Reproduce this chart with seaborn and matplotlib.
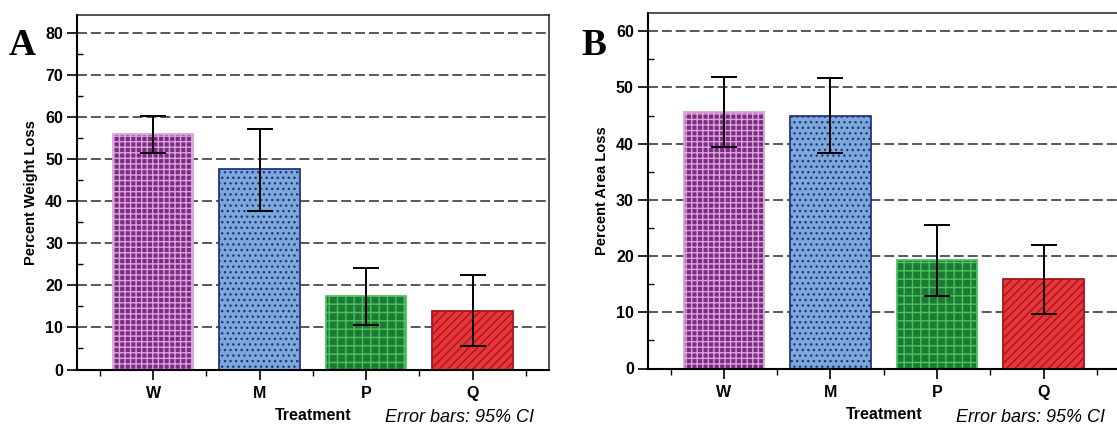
import matplotlib
matplotlib.use("Agg")
import matplotlib.pyplot as plt
import seaborn as sns
import pandas as pd
from matplotlib.ticker import MultipleLocator, FixedLocator

treatments = ["W", "M", "P", "Q"]

weight_loss = [56.0, 47.6, 17.5, 14.0]
weight_lo = [51.5, 37.7, 10.6, 5.5]
weight_hi = [60.2, 57.3, 24.2, 22.4]

area_loss = [45.6, 45.0, 19.3, 16.0]
area_lo = [39.4, 38.3, 12.9, 9.7]
area_hi = [51.8, 51.6, 25.5, 22.0]

face_colors = ["#7E2A86", "#7DA9DA", "#1C7A34", "#E8353A"]
edge_colors = ["#D9A6DA", "#26357F", "#4CC35E", "#A4161D"]
hatches = ["+++", "...", "++", "////"]

sns.set_style("white")
plt.rcParams["font.family"] = ["Liberation Sans", "DejaVu Sans"]
plt.rcParams["hatch.linewidth"] = 1.0
plt.rcParams["text.color"] = "black"
plt.rcParams["axes.labelcolor"] = "black"
plt.rcParams["xtick.color"] = "black"
plt.rcParams["ytick.color"] = "black"


def draw_panel(ax, means, lo, hi, ylabel, ytop, letter, letter_x):
    df = pd.DataFrame({"Treatment": treatments, "value": means})
    sns.barplot(data=df, x="Treatment", y="value", hue="Treatment",
                palette=face_colors, order=treatments, width=0.755,
                saturation=1, errorbar=None, legend=False, ax=ax, zorder=2)

    for patch, ec, h in zip(ax.patches, edge_colors, hatches):
        patch.set_edgecolor(ec)
        patch.set_hatch(h)
        patch.set_linewidth(1.3)

    x = range(len(treatments))
    err = [[m - l for m, l in zip(means, lo)], [h - m for m, h in zip(means, hi)]]
    ax.errorbar(x, means, yerr=err, fmt="none", ecolor="black",
                elinewidth=1.4, capsize=9.7, capthick=1.4, zorder=3)

    ax.set_xlim(-0.716, 3.718)
    ax.set_ylim(0, ytop)
    ax.yaxis.set_major_locator(MultipleLocator(10))
    ax.yaxis.set_minor_locator(MultipleLocator(5))
    ax.xaxis.set_minor_locator(FixedLocator([-0.5, 0.5, 1.5, 2.5, 3.5]))

    ax.set_axisbelow(True)
    ax.grid(axis="y", which="major", color="#4a4a4a", linewidth=1.3,
            linestyle=(0, (5.5, 2.2)))
    ax.grid(axis="x", visible=False)

    ax.tick_params(axis="y", which="major", direction="out", length=7, width=1.2,
                   pad=3, labelsize=11.5, left=True)
    ax.tick_params(axis="y", which="minor", direction="in", length=4, width=1.0, left=True)
    ax.tick_params(axis="x", which="major", direction="out", length=7, width=1.2,
                   pad=5, labelsize=11.5, bottom=True)
    ax.tick_params(axis="x", which="minor", direction="out", length=4, width=1.0, bottom=True)
    for lab in ax.get_xticklabels() + ax.get_yticklabels():
        lab.set_fontweight("bold")

    for side in ["left", "bottom"]:
        ax.spines[side].set_linewidth(1.5)
        ax.spines[side].set_color("black")
    for side in ["top", "right"]:
        ax.spines[side].set_linewidth(1.1)
        ax.spines[side].set_color("#222222")

    ax.set_xlabel("Treatment", fontsize=11.5, fontweight="bold", labelpad=5)
    ax.set_ylabel(ylabel, fontsize=10.5, fontweight="bold", labelpad=5)

    fig.text(ax.get_position().x0 + 0.81 * ax.get_position().width, 2.5 / 425,
             "Error bars: 95% CI", fontsize=13, fontstyle="italic",
             ha="center", va="baseline")
    fig.text(letter_x, 1 - 55 / 425, letter, fontsize=27, fontweight="bold",
             family="Liberation Serif", ha="left", va="baseline")


fig = plt.figure(figsize=(11.17, 4.25), dpi=100)
ax_a = fig.add_axes([77 / 1117, 1 - 369.5 / 425, 472 / 1117, 354.5 / 425])
ax_b = fig.add_axes([647.7 / 1117, 1 - 368.5 / 425, 472.3 / 1117, 355.2 / 425])

draw_panel(ax_a, weight_loss, weight_lo, weight_hi, "Percent Weight Loss", 84.3, "A", 9 / 1117)
draw_panel(ax_b, area_loss, area_lo, area_hi, "Percent Area Loss", 63.2, "B", 581 / 1117)

fig.savefig("out.png", dpi=100)
